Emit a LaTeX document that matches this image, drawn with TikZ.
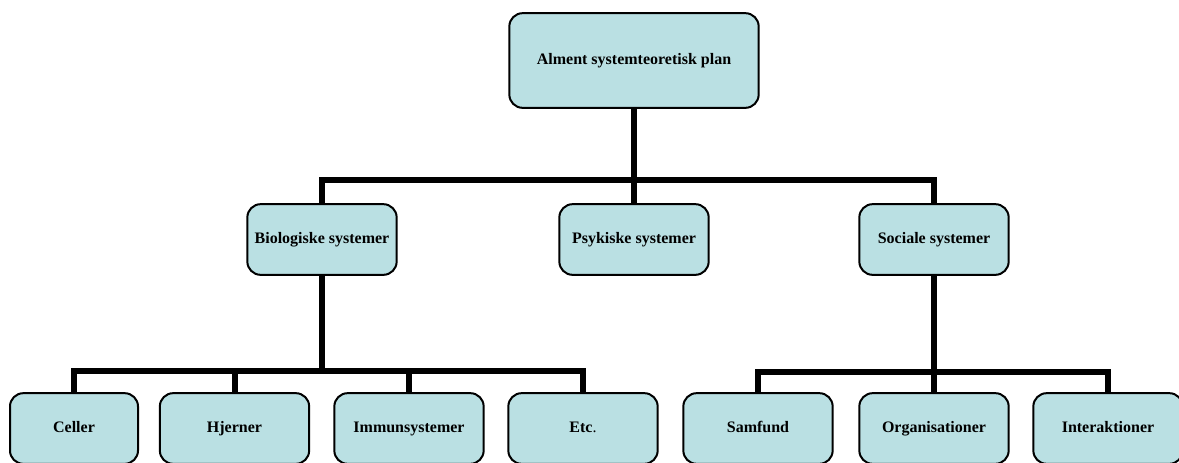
\documentclass[tikz,border=0pt]{standalone}
\usepackage{fontspec}
\setmainfont{Liberation Serif}
\definecolor{boxfill}{RGB}{186,224,227}
\tikzset{
  unit/.style={draw, line width=1.5pt, fill=boxfill, rounded corners=10pt,
    minimum width=112pt, minimum height=53pt, inner sep=0pt,
    text height=8.5pt, text depth=2.5pt,
    font=\fontsize{12}{14}\selectfont\bfseries},
  link/.style={line width=4.5pt}
}
\begin{document}
\begin{tikzpicture}[x=0.75pt,y=-0.75pt]
      \useasboundingbox (0,0) rectangle (1179,462);
      \draw
        (634,60.5) node[unit, minimum width=187pt, minimum height=71pt] (plan){Alment systemteoretisk plan}
        (322,239.5) node[unit] (bio){Biologiske systemer}
        (634,239.5) node[unit] (psy){Psykiske systemer}
        (934,239.5) node[unit] (soc){Sociale systemer}
        (74,428.5) node[unit, minimum width=96pt] (cel){Celler}
        (234.5,428.5) node[unit] (hje){Hjerner}
        (409,428.5) node[unit] (imm){Immunsystemer}
        (583,428.5) node[unit] (etc){Etc{\mdseries .}}
        (758,428.5) node[unit] (sam){Samfund}
        (934,428.5) node[unit] (org){Organisationer}
        (1108,428.5) node[unit] (int){Interaktioner};
      \coordinate (topbar) at (634,180);
      \coordinate (biobar) at (322,371);
      \coordinate (socbar) at (934,372);
      \begin{scope}[link]
        \draw (plan) -- (psy);
        \draw (bio) |- (topbar) -| (soc);
        \draw (bio) -- (biobar);
        \draw (cel) |- (biobar) -| (etc);
        \draw (biobar) -| (hje);
        \draw (biobar) -| (imm);
        \draw (soc) -- (org);
        \draw (sam) |- (socbar) -| (int);
      \end{scope}
    \end{tikzpicture}
\end{document}
